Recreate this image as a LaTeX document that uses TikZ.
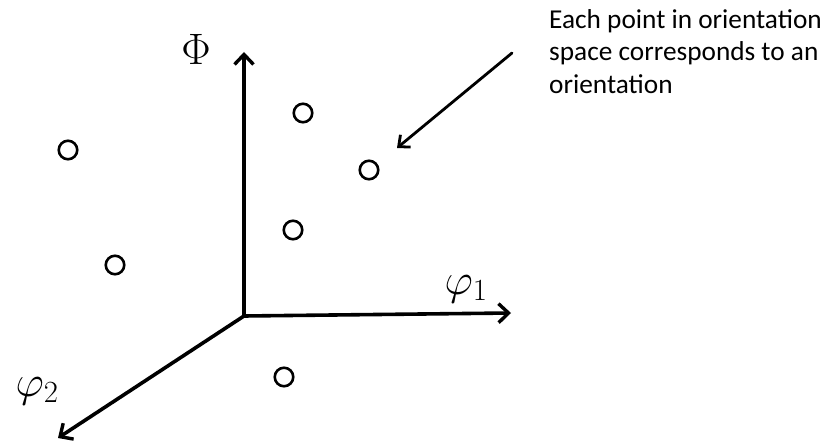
\RequirePackage{fix-cm}
\documentclass[tikz,border=0pt]{standalone}
\usepackage{fontspec}
\newfontfamily\notefont{Carlito}
\usepackage{tikz}
\usetikzlibrary{positioning,arrows.meta}

\begin{document}
\begin{tikzpicture}[x=1pt, y=-1pt,
        axis/.style={-{Straight Barb[length=10pt, width=19pt, line width=3.4pt]}, line width=3.6pt, line cap=round},
        pointer/.style={-{Straight Barb[length=9pt, width=16pt, line width=2.8pt]}, line width=2.8pt, line cap=round},
        pt/.style={draw, circle, line width=2.6pt, minimum size=18.5pt, inner sep=0pt},
        axlabel/.style={font=\fontsize{44}{52}\selectfont},
        note/.style={align=left, anchor=north west, inner sep=0pt, font=\notefont\fontsize{27.3}{32.5}\selectfont}
    ]
        \useasboundingbox (0,0) rectangle (837,443);

        \coordinate (origin) at (244,316);
        \coordinate (phitip) at (244,52);
        \coordinate (xtip) at (511,313);
        \coordinate (ytip) at (58,438);

        \draw[axis] (origin) -- (phitip);
        \draw[axis] (origin) -- (xtip);
        \draw[axis] (origin) -- (ytip);

        \node[axlabel] (Phi) at (196,49) {$\Phi$};
        \node[axlabel] (phi1) at (466,289) {$\varphi_1$};
        \node[axlabel] (phi2) at (37,391) {$\varphi_2$};

        % points in orientation space
        \node[pt] (p1) at (68,150) {};
        \node[pt] (p2) at (115,265) {};
        \node[pt] (p3) at (303,113) {};
        \node[pt] (p4) at (369,170) {};
        \node[pt] (p5) at (293,230) {};
        \node[pt] (p6) at (284,377) {};

        \node[note] (note) at (549,9) {Each point in orientation\\space corresponds to an\\orientation};
        \coordinate (notetail) at (512,53);
        \coordinate (notetip) at (397,148);
        \draw[pointer] (notetail) -- (notetip);
\end{tikzpicture}
\end{document}
